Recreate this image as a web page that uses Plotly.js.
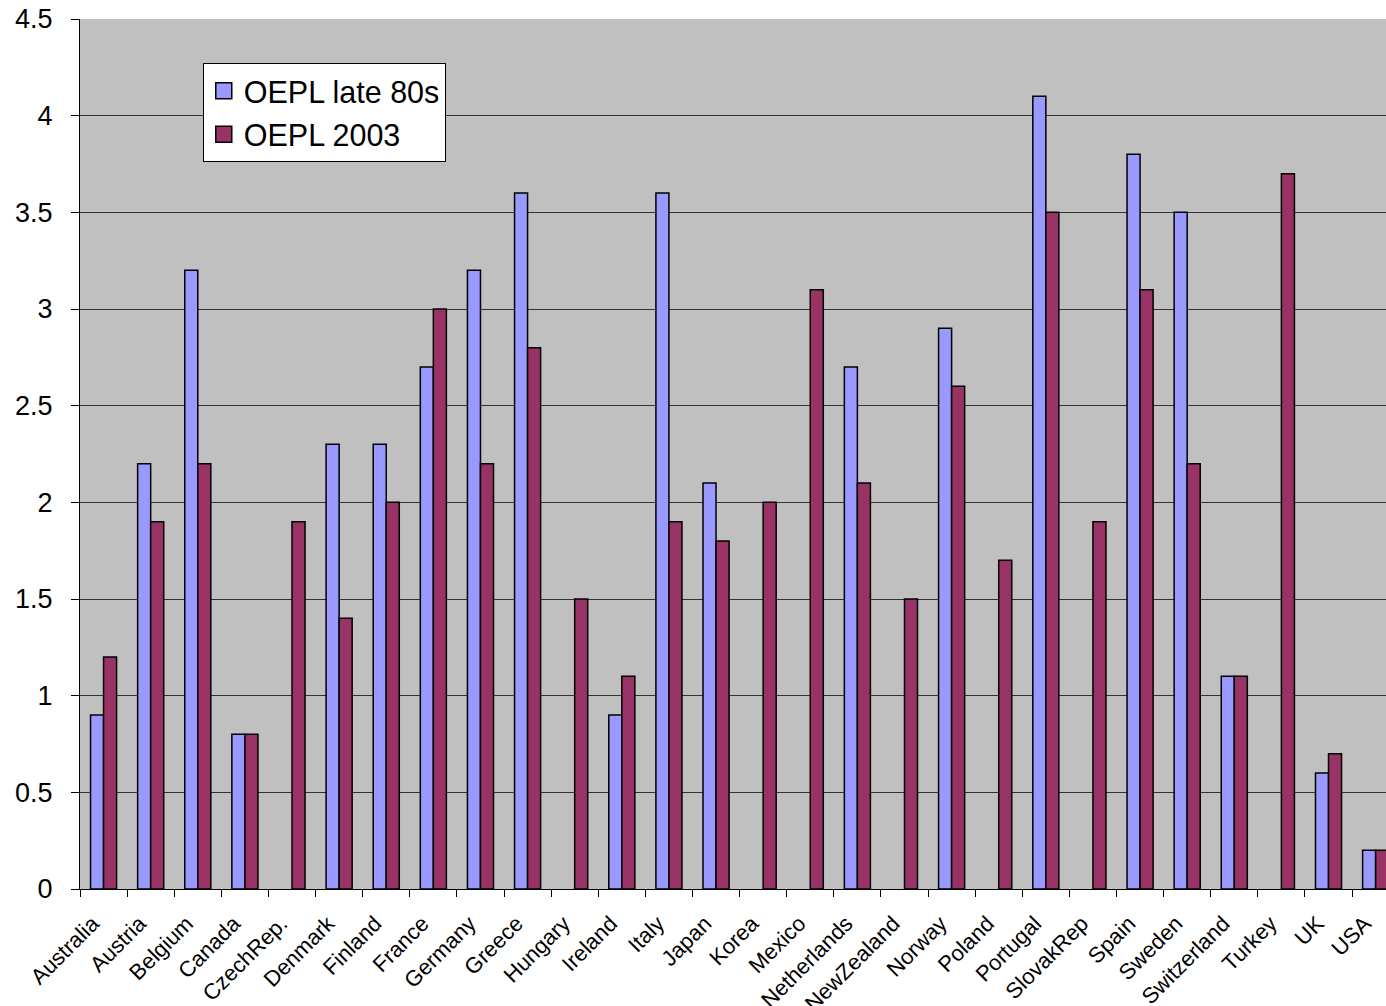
<!DOCTYPE html>
<html>
<head>
<meta charset="utf-8">
<script src="https://cdn.plot.ly/plotly-3.0.1.min.js"></script>
<style>html,body{margin:0;padding:0;overflow:hidden;background:#fff;}</style>
</head>
<body>
<div id="chart" style="width:1386px;height:1006px;"></div>
<script>
const countries = ["Australia","Austria","Belgium","Canada","CzechRep.","Denmark","Finland","France","Germany","Greece","Hungary","Ireland","Italy","Japan","Korea","Mexico","Netherlands","NewZealand","Norway","Poland","Portugal","SlovakRep","Spain","Sweden","Switzerland","Turkey","UK","USA"];
const oeplLate80s = [0.9,2.2,3.2,0.8,null,2.3,2.3,2.7,3.2,3.6,null,0.9,3.6,2.1,null,null,2.7,null,2.9,null,4.1,null,3.8,3.5,1.1,null,0.6,0.2];
const oepl2003 = [1.2,1.9,2.2,0.8,1.9,1.4,2.0,3.0,2.2,2.8,1.5,1.1,1.9,1.8,2.0,3.1,2.1,1.5,2.6,1.7,3.5,1.9,3.1,2.2,1.1,3.7,0.7,0.2];
const seriesNames = ["OEPL late 80s","OEPL 2003"];
const seriesColors = ["#9999FF","#993366"];
const yTicks = [0,0.5,1,1.5,2,2.5,3,3.5,4,4.5];
const yTickText = ["0","0.5","1","1.5","2","2.5","3","3.5","4","4.5"];

const font = "Arial, 'Liberation Sans', sans-serif";
const data = [
  {type:"bar", name:seriesNames[0], x:countries, y:oeplLate80s, showlegend:false,
   marker:{color:seriesColors[0], line:{color:"#000", width:1.5}}},
  {type:"bar", name:seriesNames[1], x:countries, y:oepl2003, showlegend:false,
   marker:{color:seriesColors[1], line:{color:"#000", width:1.5}}},
  {type:"scatter", mode:"markers", name:seriesNames[0], x:[null], y:[null], legendgroup:"a",
   marker:{symbol:"square", size:18, color:seriesColors[0], line:{color:"#000", width:1.5}}},
  {type:"scatter", mode:"markers", name:seriesNames[1], x:[null], y:[null], legendgroup:"b",
   marker:{symbol:"square", size:18, color:seriesColors[1], line:{color:"#000", width:1.5}}}
];
const layout = {
  width:1386, height:1006,
  margin:{l:80, r:0, t:19, b:117, pad:0},
  paper_bgcolor:"#fff", plot_bgcolor:"#C0C0C0",
  barmode:"group", bargap:0.447, bargroupgap:0,
  font:{family:font, color:"#000"},
  showlegend:true,
  legend:{x:0.094, y:0.949, xanchor:"left", yanchor:"top",
    bgcolor:"#fff", bordercolor:"#000", borderwidth:1, itemsizing:"trace",
    font:{family:font, size:30.5, color:"#000"}, tracegroupgap:1, traceorder:"grouped", itemwidth:30},
  xaxis:{type:"category", range:[-0.5, 27.22], tickson:"boundaries",
    ticks:"outside", ticklen:7, tickcolor:"#000", tickwidth:1,
    showline:true, linecolor:"#000", linewidth:1, showgrid:false,
    tickangle:-45, tickfont:{family:font, size:22, color:"#000"},
    ticklabelstandoff:12, ticklabelshift:-11, fixedrange:true},
  yaxis:{range:[0,4.5], tickvals:yTicks, ticktext:yTickText,
    ticks:"outside", ticklen:8, tickcolor:"#000", tickwidth:1,
    showline:true, linecolor:"#000", linewidth:1,
    showgrid:true, gridcolor:"#333", gridwidth:1, zeroline:false,
    tickfont:{family:font, size:27, color:"#000"}, ticklabelstandoff:13, fixedrange:true}
};
Plotly.newPlot("chart", data, layout, {displayModeBar:false, staticPlot:true});
</script>
</body>
</html>
